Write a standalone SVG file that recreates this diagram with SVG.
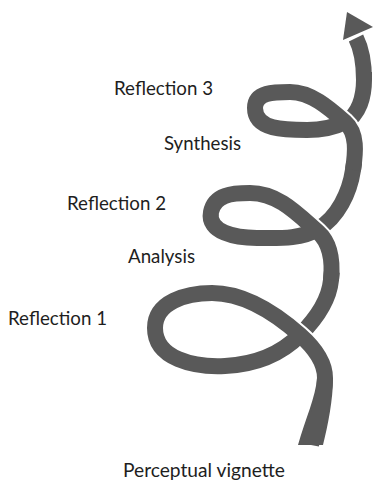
<svg xmlns="http://www.w3.org/2000/svg" width="376" height="481" viewBox="0 0 376 481">
<style>
.band{fill:none;stroke:#595959;stroke-width:16;stroke-linecap:butt;stroke-linejoin:round}
.under{stroke-linecap:square}
.gap{fill:none;stroke:#ffffff;stroke-width:20;stroke-linecap:butt}
.lbl{font-family:"Lato","Liberation Sans",Arial,sans-serif;font-weight:400;font-size:18.5px;fill:#1e1e1e}
</style>
<defs>
  <clipPath id="c1"><circle cx="300" cy="335" r="24"/></clipPath>
  <clipPath id="c2"><circle cx="318" cy="231" r="24"/></clipPath>
  <clipPath id="c3"><circle cx="345" cy="122" r="22"/></clipPath>
</defs>
<rect width="376" height="481" fill="#ffffff"/>
<g id="spiral">
  <g id="under">
    <path class="band under" d="M300 335 C314.8 320.2 329 301 331 280"/>
    <path class="band under" d="M318 229 C337.8 217.3 349.6 192.7 353 170"/>
    <path class="band under" d="M345 122 C359.3 114.8 364 96 364 80"/>
  </g>
  <g id="gaps">
    <path class="gap" clip-path="url(#c1)" d="M325 378 C325 362 313.5 346.9 300 335 C275.6 313.5 244.5 293 212 293"/>
    <path class="gap" clip-path="url(#c2)" d="M331 280 C332.8 262 331.5 243.9 318 232 C297 213.5 278 193 250 193"/>
    <path class="gap" clip-path="url(#c3)" d="M353 170 C355.5 153.2 357.8 133.2 345 122 C329 108 311 92 290 92"/>
  </g>
  <g id="over">
    <path d="M298 445 C305 420 316 396 317 378 L333 378 C333 400 328 425 323 445 Z" fill="#595959"/>
    <path class="band" d="M311 445 C315 423 325 400 325 378 C325 362 313.5 346.9 300 335 C275.6 313.5 244.5 293 212 293 C186 293 155 302 155 328 C155 359 194 367.5 225 366 C253 364.6 280 355 300 335"/>
    <path class="band" d="M331 280 C332.8 262 331.5 243.9 318 232 C297 213.5 278 193 250 193 C232 193 214.5 194.4 211 212 C207 232.6 236 238 257 238 C278 238 300 239.6 318 229"/>
    <path class="band" d="M353 170 C355.5 153.2 357.8 133.2 345 122 C329 108 311 92 290 92 C274 92 255 92 255 108 C255 130 285 130 307 130 C320 130 333.4 127.8 345 122"/>
    <path class="band" d="M364 80 C364 66 362.3 50.5 356 38"/>
    <polygon points="347,12 343,40 373,27" fill="#595959"/>
  </g>
</g>
<g id="label-reflection3"><text class="lbl" x="114" y="95" textLength="99" lengthAdjust="spacingAndGlyphs">Reflection 3</text></g>
<g id="label-synthesis"><text class="lbl" x="164" y="150" textLength="77" lengthAdjust="spacingAndGlyphs">Synthesis</text></g>
<g id="label-reflection2"><text class="lbl" x="67" y="210" textLength="99" lengthAdjust="spacingAndGlyphs">Reflection 2</text></g>
<g id="label-analysis"><text class="lbl" x="128" y="263" textLength="67" lengthAdjust="spacingAndGlyphs">Analysis</text></g>
<g id="label-reflection1"><text class="lbl" x="8" y="325" textLength="99" lengthAdjust="spacingAndGlyphs">Reflection 1</text></g>
<g id="label-perceptual"><text class="lbl" x="123" y="477" textLength="162" lengthAdjust="spacingAndGlyphs">Perceptual vignette</text></g>
</svg>
